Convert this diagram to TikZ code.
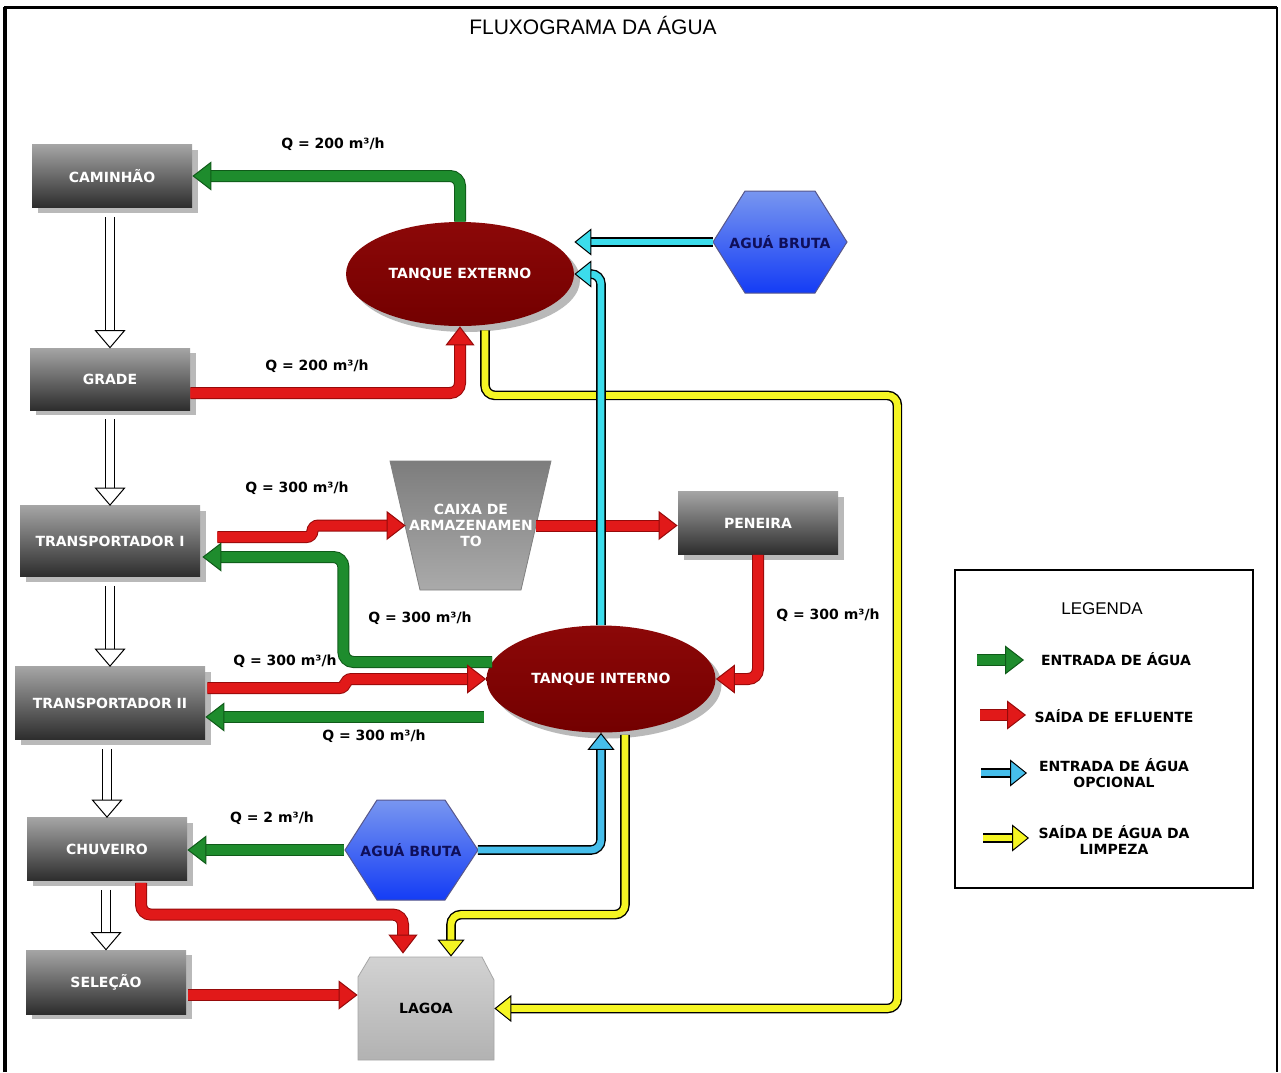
\documentclass[tikz,border=0pt]{standalone}
\usepackage{fontspec}
\setmainfont{Liberation Sans}
\newfontfamily\djfont{DejaVu Sans}
\newcommand\labfont{\djfont\bfseries\fontsize{7pt}{8pt}\selectfont}
\usetikzlibrary{arrows.meta,calc,shadows,shapes.geometric}
\definecolor{gC}{RGB}{30,140,45}
\definecolor{gD}{RGB}{15,90,25}
\definecolor{rC}{RGB}{225,25,25}
\definecolor{rD}{RGB}{150,10,10}
\definecolor{cC}{RGB}{60,220,235}
\definecolor{cB}{RGB}{70,190,235}
\definecolor{yC}{RGB}{245,245,35}
\definecolor{boxT}{RGB}{165,165,165}
\definecolor{boxB}{RGB}{45,45,45}
\definecolor{shd}{RGB}{185,185,185}
\definecolor{tankT}{RGB}{140,8,8}
\definecolor{tankB}{RGB}{115,0,0}
\definecolor{hexT}{RGB}{120,150,240}
\definecolor{hexB}{RGB}{20,60,245}
\definecolor{navy}{RGB}{15,15,90}
\definecolor{trT}{RGB}{125,125,125}
\definecolor{trB}{RGB}{170,170,170}
\definecolor{lgT}{RGB}{210,210,210}
\definecolor{lgB}{RGB}{178,178,178}
\newcommand\hollowarrow[2]{%
  \path (#1.south -| #2.north) coordinate (hs#2);
  \draw[black, line width=0.5pt, double=white, double distance=4pt] ($(hs#2)+(0,9)$) -- ($(#2.north)+(0,-15)$);
  \draw[black, line width=0.5pt, fill=white] (#2.north) -- ++(-14.5,-17) -- ++(29,0) -- cycle;
}
\begin{document}
\begin{tikzpicture}[x=0.5pt,y=-0.5pt,
  box/.style={rectangle, inner sep=0pt, top color=boxT, bottom color=boxB, text=white, font=\labfont,
    general shadow={fill=shd, shadow xshift=3pt, shadow yshift=-2.5pt}},
  tank/.style={ellipse, inner sep=0pt, top color=tankT, bottom color=tankB, text=white, font=\labfont,
    general shadow={fill=shd, shadow xshift=3pt, shadow yshift=-3pt}},
  txtnode/.style={rectangle, inner sep=0pt, font=\labfont},
  ql/.style={font=\labfont, text=black, inner sep=1pt},
  gflow/.style={draw=gC, line width=5pt, rounded corners=5pt,
    preaction={draw=gD, line width=6pt, arrows=-, shorten >=7pt},
    -{Triangle[width=14.5pt,length=9.5pt,fill=gC,color=gD,line width=0.5pt]}},
  rflow/.style={draw=rC, line width=5pt, rounded corners=5pt,
    preaction={draw=rD, line width=6pt, arrows=-, shorten >=7pt},
    -{Triangle[width=14.5pt,length=9.5pt,fill=rC,color=rD,line width=0.5pt]}},
  cflow/.style={draw=#1, line width=3.4pt, rounded corners=5pt,
    preaction={draw=black, line width=4.8pt, arrows=-, shorten >=6pt},
    -{Triangle[width=13.5pt,length=8.5pt,fill=#1,color=black,line width=0.5pt]}},
  cflow/.default=cC,
  yflow/.style={draw=yC, line width=3.4pt, rounded corners=5pt,
    preaction={draw=black, line width=4.8pt, arrows=-, shorten >=6pt},
    -{Triangle[width=13.5pt,length=8.5pt,fill=yC,color=black,line width=0.5pt]}}
]
\useasboundingbox (0,0) rectangle (1281,1072);
\fill[white] (0,0) rectangle (1281,1072);
\draw[line width=2pt] (5,1072) -- (5,7);
\draw[line width=1.5pt] (4,7) -- (1277,7);
\draw[line width=1pt] (1277,7) -- (1277,1072);

\node (title) at (593,25) {\fontsize{10.5pt}{12pt}\selectfont FLUXOGRAMA DA ÁGUA};

% boxes
\node[box, minimum width=80pt, minimum height=31.5pt] (cam) at (112,176) {CAMINHÃO};
\node[box, minimum width=80pt, minimum height=31pt] (grade) at (110,379) {GRADE};
\node[box, minimum width=90pt, minimum height=35.5pt] (t1) at (110,541) {TRANSPORTADOR I};
\node[box, minimum width=95pt, minimum height=36.5pt] (t2) at (110,703) {TRANSPORTADOR II};
\node[box, minimum width=80pt, minimum height=31.5pt] (chuv) at (107,849) {CHUVEIRO};
\node[box, minimum width=80pt, minimum height=32pt] (sel) at (106,982) {SELEÇÃO};
\node[box, minimum width=80pt, minimum height=31.5pt] (pen) at (758,523) {PENEIRA};

% tanks
\node[tank, minimum width=114pt, minimum height=52pt] (tex) at (460,274) {TANQUE EXTERNO};
\node[tank, minimum width=114.5pt, minimum height=53.5pt] (tin) at (601,679) {TANQUE INTERNO};

% hexagons
\shade[top color=hexT, bottom color=hexB, draw=navy!70, line width=0.5pt]
  (713,242) -- (745,191) -- (815,191) -- (847,242) -- (815,293) -- (745,293) -- cycle;
\node[txtnode, text=navy, minimum width=67pt, minimum height=51pt] (hex1) at (780,242) {AGUÁ BRUTA};
\shade[top color=hexT, bottom color=hexB, draw=navy!70, line width=0.5pt]
  (345,850) -- (377,800) -- (445,800) -- (478,850) -- (445,900) -- (377,900) -- cycle;
\node[txtnode, text=navy, minimum width=66.5pt, minimum height=50pt] (hex2) at (411,850) {AGUÁ BRUTA};

% caixa
\shade[top color=trT, bottom color=trB, draw=gray, line width=0.4pt]
  (390,461) -- (551,461) -- (521,590) -- (420,590) -- cycle;
\node[txtnode, text=white, align=center, minimum width=65pt, minimum height=64.5pt] (caixa) at (471,525.5) {CAIXA DE\\ARMAZENAMEN\\TO};

% lagoa
\shade[top color=lgT, bottom color=lgB, draw=gray!70, line width=0.4pt]
  (358,977) -- (370,957) -- (482,957) -- (494,980) -- (494,1060) -- (358,1060) -- cycle;
\node[txtnode, text=black, minimum width=68pt, minimum height=51.5pt] (lagoa) at (426,1008.5) {LAGOA};

% hollow arrows
\hollowarrow{cam}{grade}
\hollowarrow{grade}{t1}
\hollowarrow{t1}{t2}
\hollowarrow{t2}{chuv}
\hollowarrow{chuv}{sel}

% connectors
\draw[gflow] (tex.north) |- (cam.east);
\coordinate (gr) at ($(grade.east)+(0,14)$);
\draw[rflow] (gr) -| (tex.south);
\draw[yflow] ($(tex.south)+(25,4)$) -- ++(0,65) -| ($(lagoa.east)+(403,0)$) -- (lagoa.east);
\coordinate (r1) at ($(t1.east)+(17,-4)$);
\draw[rflow, rounded corners=3pt] (r1) -- ++(95,0) |- (caixa.west);
\draw[rflow] (caixa.east) -- (caixa.east -| pen.west);
\draw[rflow] (pen.south) |- (tin.east);
\coordinate (g2s) at ($(tin.west)+(6,-17)$);
\coordinate (g2e) at ($(t1.east)+(2,16)$);
\draw[gflow] (g2s) -| ($(g2e)+(141,0)$) -- (g2e);
\coordinate (r2) at ($(t2.east)+(2,-15)$);
\draw[rflow, rounded corners=3pt] (r2) -- ++(138,0) |- (tin.west);
\coordinate (g3s) at ($(tin.west)+(-2,38)$);
\draw[gflow] (g3s) -- (g3s -| t2.east);
\draw[cflow] (hex1.west) -- (hex1.west -| tex.east);
\draw[cflow] (tin.north) |- (tex.east);
\draw[cflow=cB] (hex2.east) -| (tin.south);
\draw[yflow] ($(tin.south)+(24,2)$) |- ($(lagoa.north)+(25,-42)$) -- ($(lagoa.north)+(25,0)$);
\draw[gflow] (hex2.west) -- (hex2.west -| chuv.east);
\draw[rflow] ($(chuv.south)+(34,2)$) |- ($(lagoa.north)+(-23,-42)$) -- ($(lagoa.north)+(-23,-3)$);
\coordinate (s1) at ($(sel.east)+(2,13)$);
\draw[rflow] (s1) -- (s1 -| lagoa.west);

% flow labels
\node[ql] (q1) at (333,144) {Q = 200 m³/h};
\node[ql] (q2) at (317,366) {Q = 200 m³/h};
\node[ql] (q3) at (297,488) {Q = 300 m³/h};
\node[ql] (q4) at (420,618) {Q = 300 m³/h};
\node[ql] (q5) at (285,661) {Q = 300 m³/h};
\node[ql] (q6) at (374,736) {Q = 300 m³/h};
\node[ql] (q7) at (828,615) {Q = 300 m³/h};
\node[ql] (q8) at (272,818) {Q = 2 m³/h};

% legend
\draw[line width=0.6pt] (955,570) rectangle (1253,888);
\node (legt) at (1102,609) {\fontsize{8.5pt}{10pt}\selectfont LEGENDA};
\draw[gflow] (977,660) -- (1024,660);
\draw[rflow] (980,715) -- (1026,715);
\draw[cflow=cB] (981,773) -- (1027,773);
\draw[yflow] (983,838) -- (1029,838);
\node[ql] (l1) at (1116,659) {ENTRADA DE ÁGUA};
\node[ql] (l2) at (1114,716) {SAÍDA DE EFLUENTE};
\node[ql, align=center] (l3) at (1114,773) {ENTRADA DE ÁGUA\\OPCIONAL};
\node[ql, align=center] (l4) at (1114,840) {SAÍDA DE ÁGUA DA\\LIMPEZA};
\end{tikzpicture}
\end{document}
